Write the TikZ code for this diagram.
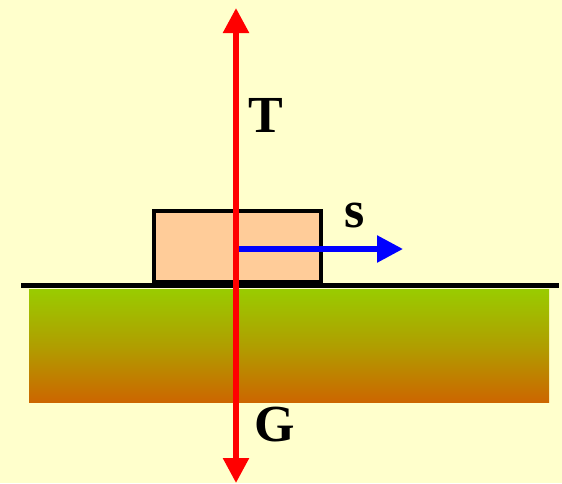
\documentclass[tikz,border=0pt]{standalone}
\usepackage{fontspec}
\setmainfont{Liberation Serif}
\usetikzlibrary{arrows.meta,positioning,calc}
\definecolor{paleyellow}{RGB}{255,255,204}
\definecolor{blockfill}{RGB}{255,204,153}
\definecolor{grassgreen}{RGB}{153,204,0}
\definecolor{soilorange}{RGB}{204,102,0}
\definecolor{forcered}{RGB}{255,0,0}
\definecolor{moveblue}{RGB}{0,0,255}

\begin{document}
\begin{tikzpicture}[
  x=1pt,y=-1pt,
  lbl/.style={font=\fontsize{52}{52}\selectfont\bfseries,inner sep=0pt},
  force/.style={forcered,line width=5.5pt,{Triangle[length=25pt,width=25pt]}-{Triangle[length=25pt,width=25pt]}},
  move/.style={moveblue,line width=5.5pt,-{Triangle[length=26pt,width=26pt]}}]
  \fill[paleyellow](0,0)rectangle(562,483);
  \useasboundingbox(0,0)rectangle(562,483);
  % ground
  \shade[top color=grassgreen,bottom color=soilorange,middle color={grassgreen!55!soilorange}](29,289)rectangle(549,402);
  \draw[line width=5pt](21,285.5)--(559,285.5);
  % block
  \draw[fill=blockfill,line width=4.5pt](154,211)rectangle(321,282);
  \coordinate(O) at(236,249);
  \coordinate(top) at(236,8);
  \coordinate(bot) at(236,483);
  \coordinate(S) at(403,249);
  \draw[move](O)--(S);
  \draw[force](bot)--(top);
  \node[lbl](T) at(266,115){T};
  \node[lbl](s) at(355,215){s};
  \node[lbl](G) at(275,425){G};
\end{tikzpicture}
\end{document}
